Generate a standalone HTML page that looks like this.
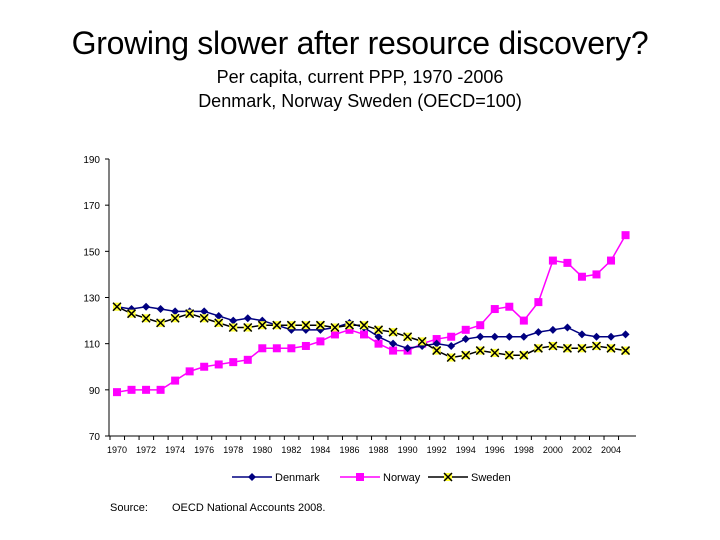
<!DOCTYPE html>
<html><head><meta charset="utf-8"><style>
body{margin:0;background:#fff;width:720px;height:540px;overflow:hidden;font-family:"Liberation Sans",sans-serif}
.t{position:absolute;left:0;width:720px;text-align:center;color:#000}
</style></head><body>
<div class="t" style="top:25px;font-size:32px;letter-spacing:-0.3px">Growing slower after resource discovery?</div>
<div class="t" style="top:67px;font-size:18px">Per capita, current PPP, 1970 -2006</div>
<div class="t" style="top:91px;font-size:18px">Denmark, Norway Sweden (OECD=100)</div>
<svg id="c" width="720" height="540" style="position:absolute;left:0;top:0"></svg>
<script>
const years=[];for(let y=1970;y<=2005;y++)years.push(y);
const denmark=[126,125,126,125,124,124,124,122,120,121,120,118,116,116,116,117,119,117,113,110,108,109,110,109,112,113,113,113,113,115,116,117,114,113,113,114];
const norway=[89,90,90,90,94,98,100,101,102,103,108,108,108,109,111,114,116,114,110,107,107,110,112,113,116,118,125,126,120,128,146,145,139,140,146,157];
const sweden=[126,123,121,119,121,123,121,119,117,117,118,118,118,118,118,117,118,118,116,115,113,111,107,104,105,107,106,105,105,108,109,108,108,109,108,107];
const yTicks=[70,90,110,130,150,170,190];
const xTickYears=[1970,1972,1974,1976,1978,1980,1982,1984,1986,1988,1990,1992,1994,1996,1998,2000,2002,2004];
const svg=document.getElementById('c');const NS='http://www.w3.org/2000/svg';
const X=y=>117+(y-1970)*14.53;const Y=v=>436-(v-70)*(277/120);
function el(t,a,p){const e=document.createElementNS(NS,t);for(const k in a)e.setAttribute(k,a[k]);(p||svg).appendChild(e);return e;}
let ax=el('line',{x1:109,y1:159,x2:109,y2:436,stroke:'#000'});

let bx=el('line',{x1:109,y1:436,x2:636,y2:436,stroke:'#000'});

yTicks.forEach(v=>{el('line',{x1:105,y1:Y(v),x2:109,y2:Y(v),stroke:'#000'});
const t=el('text',{x:100,y:Y(v)+4,'font-size':10,'text-anchor':'end',fill:'#000'});t.textContent=v;
});
years.forEach(y=>el('line',{x1:X(y)-7,y1:436,x2:X(y)-7,y2:440,stroke:'#000'}));
xTickYears.forEach(y=>{const t=el('text',{x:X(y),y:453,'font-size':9,'text-anchor':'middle',fill:'#000'});t.textContent=y;
});
function series(d,color,mk,name){const g=el('g',{});
el('polyline',{points:d.map((v,i)=>X(years[i])+','+Y(v)).join(' '),fill:'none',stroke:color,'stroke-width':1.5},g);
d.forEach((v,i)=>drawMk(mk,X(years[i]),Y(v),g));}
function drawMk(mk,x,y,g){if(mk==='d'){el('path',{d:`M${x} ${y-4}L${x+4} ${y}L${x} ${y+4}L${x-4} ${y}Z`,fill:'#000080'},g);}
else if(mk==='s'){el('rect',{x:x-4,y:y-4,width:8,height:8,fill:'#ff00ff'},g);}
else{el('rect',{x:x-4,y:y-4,width:8,height:8,fill:'#ffff33'},g);el('path',{d:`M${x-4} ${y-4}L${x+4} ${y+4}M${x+4} ${y-4}L${x-4} ${y+4}`,stroke:'#000','stroke-width':1.5},g);}}
series(norway,'#ff00ff','s','norway');
series(denmark,'#000080','d','denmark');
series(sweden,'#000','x','sweden');
[['Denmark','#000080','d',232],['Norway','#ff00ff','s',340],['Sweden','#000','x',428]].forEach(([n,c,m,x])=>{
const g=el('g',{});
el('line',{x1:x,y1:477,x2:x+40,y2:477,stroke:c,'stroke-width':1.5},g);drawMk(m,x+20,477,g);
const t=el('text',{x:x+43,y:481,'font-size':11,fill:'#000'},g);t.textContent=n;});
const s1=el('text',{x:110,y:511,'font-size':11,fill:'#000'});s1.textContent='Source:';

const s2=el('text',{x:172,y:511,'font-size':11,fill:'#000'});s2.textContent='OECD National Accounts 2008.';

</script>
</body></html>
